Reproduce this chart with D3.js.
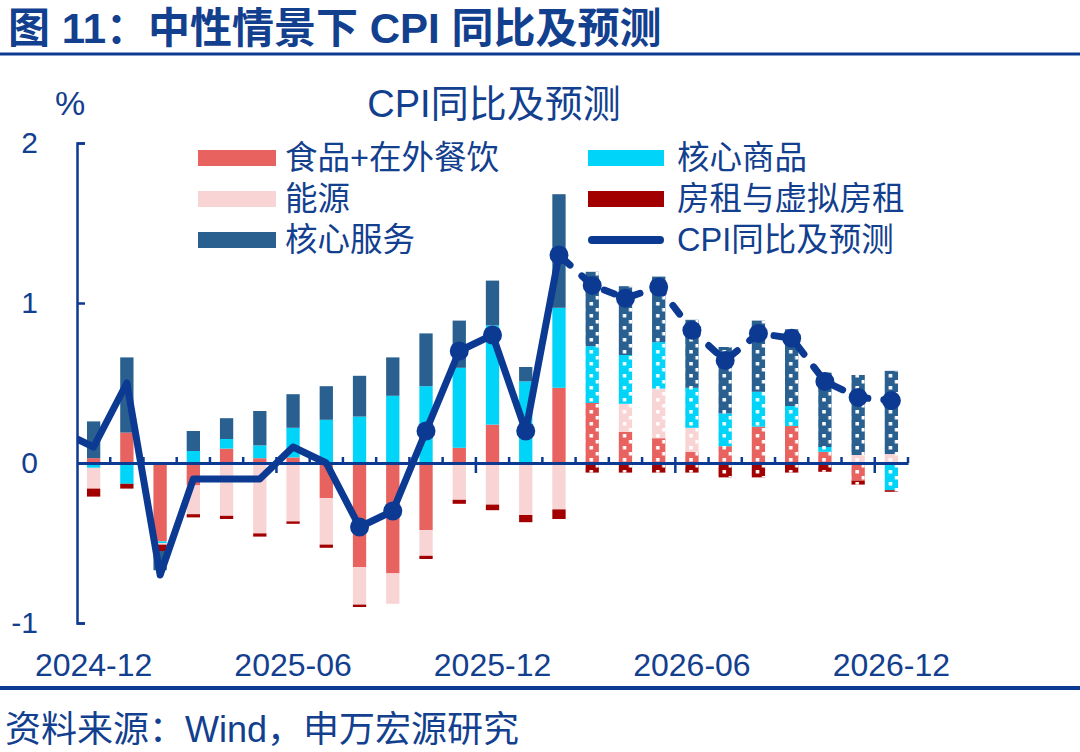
<!DOCTYPE html>
<html><head><meta charset="utf-8">
<script src="https://cdn.jsdelivr.net/npm/d3@7"></script>
<style>
html,body{margin:0;padding:0;background:#fff;}
svg{display:block;}
text{font-family:"Liberation Sans","Noto Sans CJK SC",sans-serif;}
</style></head>
<body>
<svg id="chart" width="1080" height="752"></svg>
<script>
// ---------- data ----------
const months = ["2024-12","2025-01","2025-02","2025-03","2025-04","2025-05","2025-06","2025-07","2025-08","2025-09","2025-10","2025-11","2025-12",
  "2026-01","2026-02","2026-03","2026-04","2026-05","2026-06","2026-07","2026-08","2026-09","2026-10","2026-11","2026-12"];
const food     = [0.03,0.19,-0.49,-0.14,0.09,0.03,0.035,-0.22,-0.65,-0.69,-0.42,0.095,0.24,0,0.47,0.375,0.195,0.155,0.07,0.105,0.227,0.231,0.07,-0.11,0];
const energy   = [-0.13,0,-0.01,-0.18,-0.33,-0.44,-0.365,-0.29,-0.235,-0.19,-0.16,-0.23,-0.26,-0.325,-0.29,0,0.175,0.31,0.15,0,0,0,0,0.05,0.056];
const goods    = [-0.03,-0.13,-0.01,0.075,0.06,0.08,0.185,0.27,0.29,0.42,0.48,0.5,0.62,0.51,0.5,0.355,0.305,0.29,0.25,0.205,0.218,0.125,0.03,0,-0.17];
const services = [0.23,0.47,-0.12,0.125,0.13,0.215,0.21,0.21,0.255,0.24,0.33,0.295,0.28,0.09,0.71,0.465,0.43,0.41,0.425,0.415,0.445,0.48,0.465,0.5,0.52];
const rent     = [-0.05,-0.03,-0.04,-0.02,-0.02,-0.02,-0.015,-0.02,-0.015,0,-0.02,-0.025,-0.035,-0.045,-0.06,-0.06,-0.06,-0.06,-0.06,-0.09,-0.09,-0.06,-0.055,-0.025,-0.01];
const cpiMonths = ["2024-11"].concat(months);
const cpi = [0.2,0.1,0.5,-0.7,-0.1,-0.1,-0.1,0.1,0.0,-0.4,-0.3,0.2,0.7,0.8,0.2,1.3,1.11,1.03,1.10,0.83,0.64,0.81,0.78,0.51,0.41,0.39];
const forecastStart = "2026-03";
const markerStart = "2025-08";
const xLabels = ["2024-12","2025-06","2025-12","2026-06","2026-12"];
const yTicks = [-1,0,1,2];
const seriesNames = {food:"食品+在外餐饮", energy:"能源", services:"核心服务", goods:"核心商品", rent:"房租与虚拟房租", cpi:"CPI同比及预测"};
const titleText = "图 11：中性情景下 CPI 同比及预测";
const chartTitle = "CPI同比及预测";
const unitText = "%";
const sourceText = "资料来源：Wind，申万宏源研究";

// ---------- styles ----------
const navy = "#0C3A92";
const textColor = "#12408F";
const colors = {food:"#E8625F", energy:"#F9D4D4", services:"#2A6090", goods:"#00D4F8", rent:"#A20000"};

const svg = d3.select("#chart");
const y = d3.scaleLinear().domain([-1,2]).range([623,143]);
const x = d3.scaleBand().domain(months).range([77,908]).paddingInner(0.6).paddingOuter(0.3);
const bw = x.bandwidth();
const cx = m => m === "2024-11" ? x("2024-12") + bw/2 - x.step() : x(m) + bw/2;

// ---------- header ----------
svg.append("text").attr("x",8).attr("y",43).attr("font-size",42).attr("font-weight","bold")
  .attr("fill",textColor).text(titleText);
svg.append("line").attr("x1",0).attr("x2",1080).attr("y1",54).attr("y2",54).attr("stroke",navy).attr("stroke-width",3);
svg.append("line").attr("x1",0).attr("x2",1080).attr("y1",688).attr("y2",688).attr("stroke",navy).attr("stroke-width",4);
svg.append("text").attr("x",5).attr("y",742).attr("font-size",36).attr("fill",textColor).text(sourceText);

svg.append("text").attr("x",70).attr("y",115).attr("font-size",34).attr("text-anchor","middle").attr("fill",textColor).text(unitText);
svg.append("text").attr("x",494).attr("y",117).attr("font-size",38).attr("text-anchor","middle").attr("fill",textColor).text(chartTitle);

// ---------- stacked bars ----------
const data = {food, energy, goods, services, rent};
const posOrder = ["food","energy","goods","rent","services"];
const negOrder = ["food","goods","energy","rent","services"];
const segs = [];
const extents = [];
months.forEach((m,i) => {
  let p = 0, n = 0;
  posOrder.forEach(k => { const v = data[k][i]; if (v > 0) { segs.push({m, k, y0:p, y1:p+v}); p += v; } });
  negOrder.forEach(k => { const v = data[k][i]; if (v < 0) { segs.push({m, k, y0:n, y1:n+v}); n += v; } });
  extents.push({m, lo:n, hi:p});
});

const defs = svg.append("defs");
defs.append("clipPath").attr("id","plotClip").append("rect").attr("x",77).attr("y",0).attr("width",1003).attr("height",752);

const gBars = svg.append("g");
gBars.selectAll("rect").data(segs).join("rect")
  .attr("x", d => x(d.m)).attr("width", bw)
  .attr("y", d => y(Math.max(d.y0,d.y1)))
  .attr("height", d => Math.abs(y(d.y0) - y(d.y1)))
  .attr("fill", d => colors[d.k]);

// forecast pattern overlay
const fIdx = months.indexOf(forecastStart);
const fExt = extents.slice(fIdx);
fExt.forEach((e,j) => {
  const pat = defs.append("pattern").attr("id","pat"+j).attr("patternUnits","userSpaceOnUse")
    .attr("x", x(e.m)).attr("y", 0).attr("width", bw).attr("height", 12);
  pat.append("rect").attr("x",4).attr("y",2).attr("width",3.5).attr("height",3.5).attr("fill","#fff");
  pat.append("rect").attr("x",bw-3.2).attr("y",8).attr("width",3.2).attr("height",3.5).attr("fill","#fff");
});
svg.append("g").selectAll("rect").data(fExt).join("rect")
  .attr("x", d => x(d.m)).attr("width", bw)
  .attr("y", d => y(d.hi)).attr("height", d => y(d.lo) - y(d.hi))
  .attr("fill", (d,j) => `url(#pat${j})`);

// ---------- axes ----------
const yAxis = d3.axisLeft(y).tickValues(yTicks).tickSize(-8).tickSizeOuter(-8).tickPadding(39).tickFormat(d => String(d));
const gy = svg.append("g").attr("transform","translate(77,0)").call(yAxis);
gy.selectAll("path,line").attr("stroke",navy).attr("stroke-width",2.5);
gy.selectAll("text").attr("font-size",30).attr("fill",textColor).attr("font-family",'"Liberation Sans",sans-serif');

const xAxis = d3.axisBottom(x).tickValues(xLabels).tickSize(0).tickSizeOuter(0).tickPadding(190);
const gx = svg.append("g").attr("transform",`translate(0,${y(0)})`).call(xAxis);
gx.select(".domain").attr("stroke",navy).attr("stroke-width",3);
gx.selectAll("text").attr("font-size",32).attr("fill",textColor).attr("font-family",'"Liberation Sans",sans-serif');

// tick marks at category boundaries
const bounds = months.slice(1).map(m => ({pos: x(m) - (x.step()-bw)/2, major: xLabels.includes(m)}));
bounds.push({pos: x.range()[1], major:false});
svg.append("g").selectAll("line").data(bounds).join("line")
  .attr("x1", d => d.pos).attr("x2", d => d.pos)
  .attr("y1", y(0) - 6).attr("y2", d => y(0) + (d.major ? 10 : 0))
  .attr("stroke", navy).attr("stroke-width", 2.5);

// ---------- CPI line ----------
const pts = cpiMonths.map((m,i) => ({m, v: cpi[i]}));
const line = d3.line().x(d => cx(d.m)).y(d => y(d.v));
const split = cpiMonths.indexOf(forecastStart);
svg.append("path").datum(pts.slice(0, split))
  .attr("d", line).attr("fill","none").attr("stroke",navy).attr("stroke-width",7)
  .attr("stroke-linejoin","round").attr("clip-path","url(#plotClip)");
svg.append("path").datum(pts.slice(split-1))
  .attr("d", line).attr("fill","none").attr("stroke",navy).attr("stroke-width",7)
  .attr("stroke-linecap","round").attr("stroke-dasharray","11,16").attr("stroke-dashoffset",-4);
const mIdx = cpiMonths.indexOf(markerStart);
svg.append("g").selectAll("circle").data(pts.slice(mIdx)).join("circle")
  .attr("cx", d => cx(d.m)).attr("cy", d => y(d.v)).attr("r", 9.5).attr("fill", navy);

// ---------- legend ----------
const legendItems = [
  {k:"food", col:0, row:0}, {k:"energy", col:0, row:1}, {k:"services", col:0, row:2},
  {k:"goods", col:1, row:0}, {k:"rent", col:1, row:1}, {k:"cpi", col:1, row:2}
];
const colX = [{sx:198, sw:78, tx:285}, {sx:588, sw:76, tx:677}];
const rowY = [158, 199, 240];
const gl = svg.append("g");
legendItems.forEach(it => {
  const c = colX[it.col], yy = rowY[it.row];
  if (it.k === "cpi") {
    gl.append("line").attr("x1", c.sx+4).attr("x2", c.sx+c.sw-4).attr("y1", yy).attr("y2", yy)
      .attr("stroke", navy).attr("stroke-width", 8).attr("stroke-linecap","round");
  } else {
    gl.append("rect").attr("x", c.sx).attr("y", yy-8).attr("width", c.sw).attr("height", 16).attr("fill", colors[it.k]);
  }
  gl.append("text").attr("x", c.tx).attr("y", yy+11).attr("font-size",32.5).attr("fill",textColor).text(seriesNames[it.k]);
});
</script>
</body></html>
